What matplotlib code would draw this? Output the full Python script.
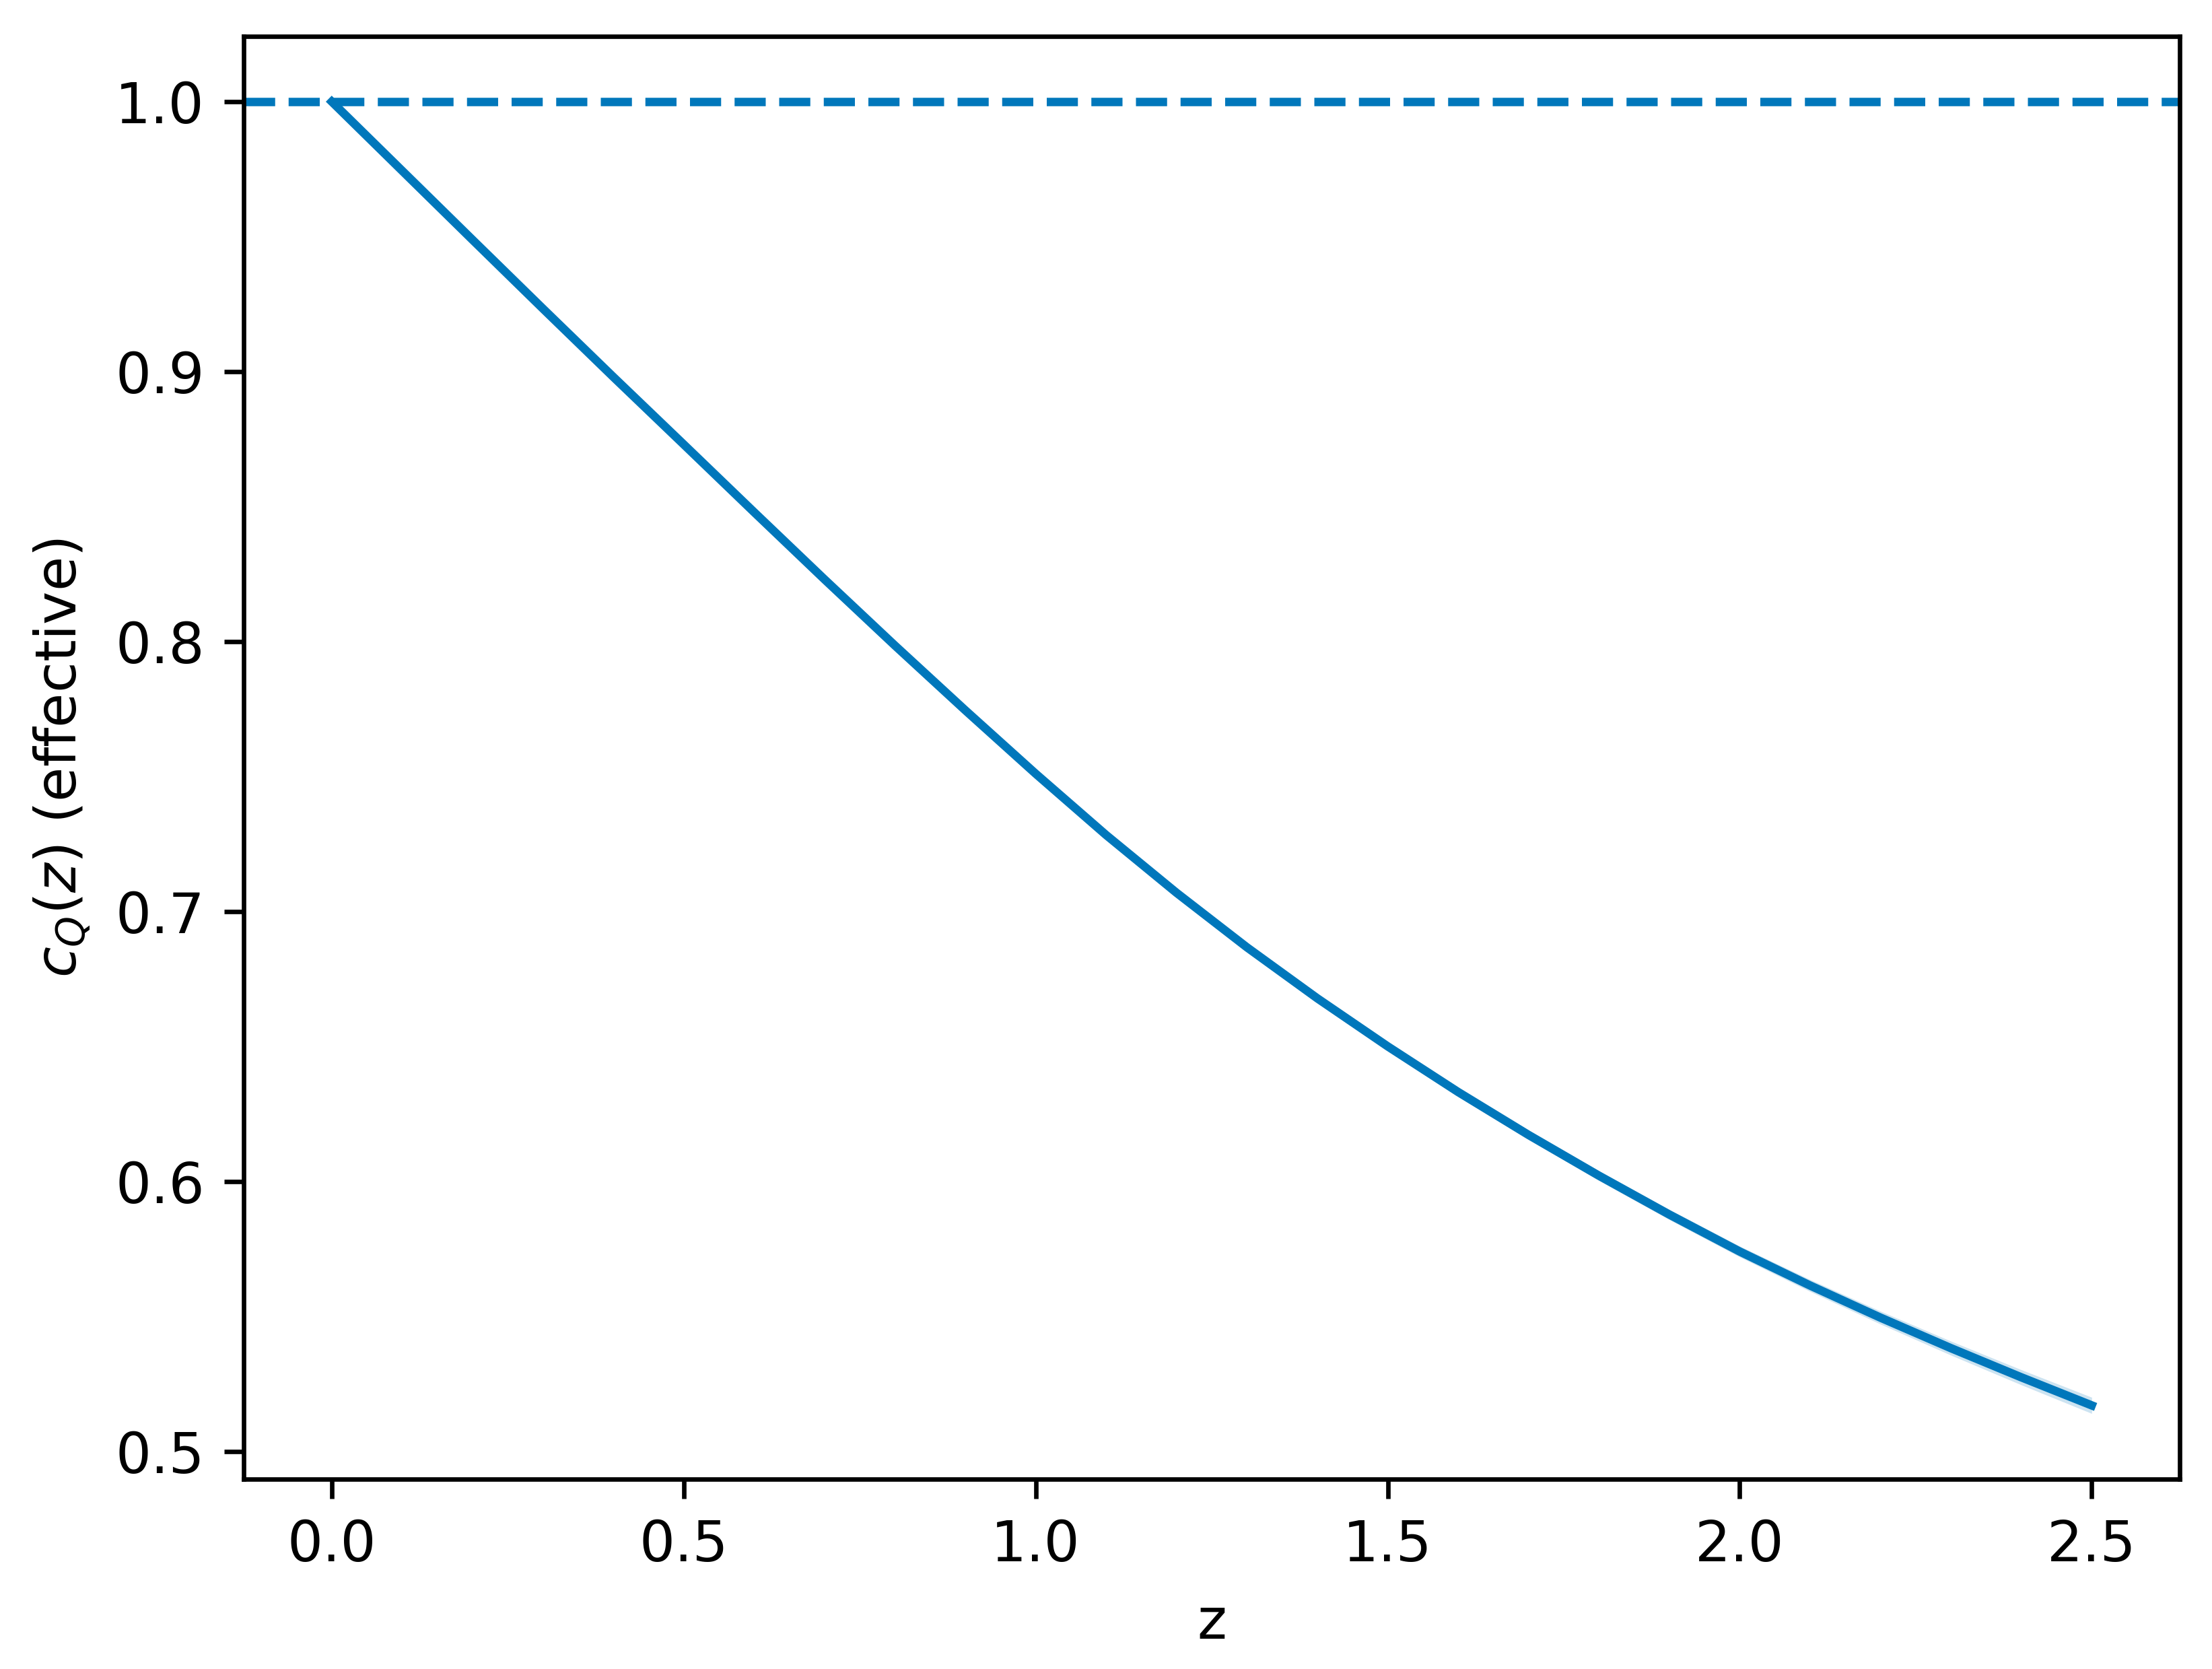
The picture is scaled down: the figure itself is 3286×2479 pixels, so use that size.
import numpy as np
import matplotlib
matplotlib.use("Agg")
import matplotlib.pyplot as plt

# effective c_Q(z), values
z = [0.0, 0.1, 0.2, 0.3, 0.4, 0.5, 0.6, 0.7, 0.8, 0.9, 1.0, 1.1, 1.2,
     1.3, 1.4, 1.5, 1.6, 1.7, 1.8, 1.9, 2.0, 2.1, 2.2, 2.3, 2.4, 2.5]
c_q = [1.0000, 0.9744, 0.9488, 0.9233, 0.8980, 0.8730, 0.8479, 0.8230,
       0.7985, 0.7745, 0.7510, 0.7283, 0.7069, 0.6867, 0.6678, 0.6500,
       0.6331, 0.6172, 0.6021, 0.5877, 0.5740, 0.5614, 0.5495, 0.5382,
       0.5274, 0.5170]
# thin uncertainty band around the curve
band = [0.0, 0.0001, 0.0002, 0.0003, 0.0004, 0.0005, 0.0006, 0.0007,
        0.0008, 0.0009, 0.0010, 0.0011, 0.0012, 0.0013, 0.0014, 0.0015,
        0.0016, 0.0017, 0.0018, 0.0019, 0.0020, 0.0022, 0.0024, 0.0026,
        0.0028, 0.0030]
c_ref = 1.0

color = "#0077BB"

z_arr = np.array(z)
c_arr = np.array(c_q)
b_arr = np.array(band)

fig = plt.figure(figsize=(3286 / 600, 2479 / 600), dpi=600)
ax = fig.add_axes([0.1102, 0.1138, 0.9854 - 0.1102, 0.9784 - 0.1138])

ax.fill_between(z_arr, c_arr - b_arr, c_arr + b_arr, color=color, alpha=0.2, linewidth=0)
ax.plot(z_arr, c_arr, color=color, lw=1.5)
ax.axhline(c_ref, color=color, lw=1.5, ls="--")

ax.set_xlabel("z")
ax.set_ylabel(r"$c_Q(z)$ (effective)")

fig.savefig("out.png", dpi=600)
